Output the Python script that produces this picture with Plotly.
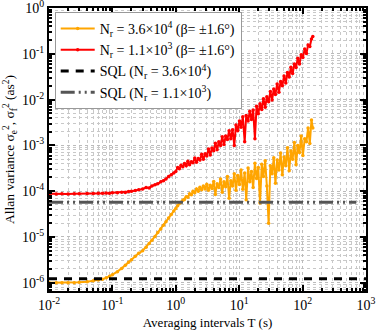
import plotly.graph_objects as go

# averaging intervals T (s)
t_smooth = [0.01, 0.013, 0.016, 0.02, 0.025, 0.03, 0.04, 0.05, 0.06, 0.07, 0.08, 0.09,
            0.1, 0.12, 0.14, 0.16, 0.18, 0.2, 0.23, 0.26, 0.3, 0.34, 0.38, 0.42, 0.47,
            0.52, 0.58, 0.64, 0.7, 0.77, 0.85, 0.93, 1.0]
t_noisy = [1.07, 1.14, 1.21, 1.29, 1.37, 1.46, 1.55, 1.65, 1.76, 1.87, 1.99, 2.12, 2.26,
           2.4, 2.56, 2.72, 2.9, 3.08, 3.28, 3.49, 3.72, 3.96, 4.21, 4.48, 4.77, 5.08,
           5.4, 5.75, 6.12, 6.52, 6.93, 7.38, 7.86, 8.36, 8.9, 9.47, 10.1, 10.7, 11.4,
           12.2, 12.9, 13.8, 14.7, 15.6, 16.6, 17.7, 18.8, 20.0, 21.3, 22.7, 24.1, 25.7,
           27.3, 29.1, 31.0, 33.0, 35.1, 37.3, 39.7, 42.3, 45.0, 47.9, 51, 54.3, 57.7,
           61.4, 65.4, 69.6, 74.1, 78.8, 83.9, 89.3, 95, 101, 108, 115, 122, 130, 138, 145]

# Nr = 3.6e4
orange_smooth = [1.0e-6, 1.0e-6, 1.0e-6, 1.0e-6, 1.0e-6, 1.02e-6, 1.05e-6, 1.1e-6, 1.15e-6,
                 1.2e-6, 1.28e-6, 1.38e-6, 1.5e-6, 1.75e-6, 2.05e-6, 2.4e-6, 2.8e-6, 3.2e-6,
                 3.8e-6, 4.4e-6, 5.0e-6, 6.0e-6, 7.2e-6, 8.5e-6, 1.03e-5, 1.25e-5, 1.5e-5,
                 1.8e-5, 2.15e-5, 2.6e-5, 3.1e-5, 3.7e-5, 4.2e-5]
orange_noisy = [4.8e-5, 5.4e-5, 5.7e-5, 6.3e-5, 6.6e-5, 7.6e-5, 7.4e-5, 8.8e-5, 8.4e-5,
                1.0e-4, 9.3e-5, 1.12e-4, 1.0e-4, 1.22e-4, 1.07e-4, 1.3e-4, 1.12e-4, 1.42e-4,
                1.05e-4, 1.35e-4, 1.15e-4, 1.62e-4, 8.5e-5, 1.45e-4, 1.2e-4, 1.85e-4, 9.5e-5,
                1.6e-4, 1.25e-4, 2.1e-4, 7.0e-5, 1.7e-4, 1.3e-4, 2.4e-4, 1.05e-4, 2.2e-4,
                1.4e-4, 2.9e-4, 1.1e-4, 2.5e-4, 6.5e-5, 3.2e-4, 1.6e-4, 2.7e-4, 1.2e-4,
                4.1e-4, 1.9e-4, 3.3e-4, 5.5e-5, 3.9e-4, 2.1e-4, 4.6e-4, 1.3e-4, 2.0e-5,
                3.6e-4, 2.4e-4, 5.4e-4, 1.5e-4, 4.8e-4, 2.9e-4, 6.8e-4, 2.3e-4, 5.6e-4,
                3.6e-4, 8.9e-4, 2.8e-4, 7.5e-4, 5.0e-4, 1.15e-3, 3.8e-4, 1.0e-3, 7.0e-4,
                1.6e-3, 6.0e-4, 1.4e-3, 1.2e-3, 2.4e-3, 1.1e-3, 3.6e-3, 2.4e-3]

# Nr = 1.1e3
red_smooth = [8.8e-5, 8.7e-5, 8.8e-5, 8.7e-5, 8.8e-5, 8.8e-5, 8.9e-5, 8.9e-5, 9.0e-5,
              9.0e-5, 9.1e-5, 9.0e-5, 9.2e-5, 9.3e-5, 9.5e-5, 9.4e-5, 9.8e-5, 1.0e-4,
              1.03e-4, 1.08e-4, 1.12e-4, 1.2e-4, 1.18e-4, 1.3e-4, 1.38e-4, 1.45e-4,
              1.6e-4, 1.7e-4, 1.85e-4, 2.1e-4, 2.3e-4, 2.5e-4, 2.7e-4]
red_noisy = [3.3e-4, 3.1e-4, 3.7e-4, 3.4e-4, 4.0e-4, 3.6e-4, 4.5e-4, 3.8e-4, 4.4e-4,
             4.2e-4, 5.3e-4, 4.3e-4, 5.2e-4, 4.8e-4, 6.4e-4, 5.0e-4, 6.6e-4, 5.9e-4,
             8.3e-4, 6.2e-4, 8.8e-4, 7.6e-4, 1.12e-3, 8.0e-4, 1.2e-3, 1.0e-3, 1.55e-3,
             1.05e-3, 1.6e-3, 1.35e-3, 2.1e-3, 1.4e-3, 2.2e-3, 1.0e-3, 2.8e-3, 2.1e-3,
             3.4e-3, 2.5e-3, 4.2e-3, 1.2e-3, 4.5e-3, 3.4e-3, 5.6e-3, 3.7e-3, 5.9e-3,
             1.4e-3, 7.2e-3, 4.9e-3, 8.1e-3, 6.1e-3, 1.05e-2, 6.8e-3, 1.15e-2, 9.0e-3,
             1.5e-2, 9.8e-3, 1.7e-2, 1.3e-2, 2.2e-2, 1.45e-2, 2.5e-2, 2.0e-2, 3.3e-2,
             2.3e-2, 3.9e-2, 3.1e-2, 5.1e-2, 3.7e-2, 6.0e-2, 5.0e-2, 8.0e-2, 6.0e-2,
             9.5e-2, 8.3e-2, 1.28e-1, 1.02e-1, 1.55e-1, 1.45e-1, 2.1e-1, 2.4e-1]

# standard quantum limits
sql_x = [0.01, 1000]
sql_high = [1.23e-6, 1.23e-6]
sql_low_x = [0.01, 700]
sql_low = [5.7e-5, 5.7e-5]

# tick labels
x_ticks = [0.01, 0.1, 1, 10, 100, 1000]
x_labels = ["10<sup>-2</sup>", "10<sup>-1</sup>", "10<sup>0</sup>", "10<sup>1</sup>",
            "10<sup>2</sup>", "10<sup>3</sup>"]
y_ticks = [1e-6, 1e-5, 1e-4, 1e-3, 1e-2, 1e-1, 1]
y_labels = ["10<sup>-6</sup>", "10<sup>-5</sup>", "10<sup>-4</sup>", "10<sup>-3</sup>",
            "10<sup>-2</sup>", "10<sup>-1</sup>", "10<sup>0</sup>"]

t_all = t_smooth + t_noisy
font = "Liberation Serif"

fig = go.Figure()
fig.add_trace(go.Scatter(x=t_all, y=orange_smooth + orange_noisy, mode="lines+markers",
                         line=dict(color="#FFA500", width=2), marker=dict(size=3.5),
                         name="N<sub>r</sub> = 3.6×10<sup>4</sup> (β= ±1.6°)"))
fig.add_trace(go.Scatter(x=t_all, y=red_smooth + red_noisy, mode="lines+markers",
                         line=dict(color="#FF0000", width=2), marker=dict(size=3.5),
                         name="N<sub>r</sub> = 1.1×10<sup>3</sup> (β= ±1.6°)"))
fig.add_trace(go.Scatter(x=sql_x, y=sql_high, mode="lines",
                         line=dict(color="black", width=3, dash="8px,7px"),
                         name="SQL (N<sub>r</sub> = 3.6×10<sup>4</sup>)"))
fig.add_trace(go.Scatter(x=sql_low_x, y=sql_low, mode="lines",
                         line=dict(color="#555555", width=3, dash="14px,4px,2px,4px,2px,4px"),
                         name="SQL (N<sub>r</sub> = 1.1×10<sup>3</sup>)"))


def minor_vals(lo, hi):
    return [m * 10 ** e for e in range(lo, hi) for m in range(2, 10)]


axis_common = dict(type="log", showline=True, automargin=False,
                   linecolor="black", linewidth=2, mirror="allticks", ticks="inside",
                   ticklen=6, tickwidth=1.5, tickcolor="black",
                   showgrid=True, gridcolor="#bbbbbb", griddash="dot", gridwidth=1,
                   tickfont=dict(family=font, size=14, color="black"),
                   ticklabeloverflow="allow", zeroline=False)

fig.update_xaxes(range=[-2, 3], tickmode="array", tickvals=x_ticks, ticktext=x_labels,
                 minor=dict(ticks="inside", ticklen=3, tickcolor="black",
                            tickvals=minor_vals(-2, 3),
                            showgrid=True, gridcolor="#c8c8c8", griddash="dot"),
                 title=dict(text="Averaging intervals T (s)", standoff=6,
                            font=dict(family=font, size=13, color="black")),
                 **axis_common)
fig.update_yaxes(range=[-6.18, 0.001], tickmode="array", tickvals=y_ticks, ticktext=y_labels,
                 minor=dict(ticks="inside", ticklen=3, tickcolor="black",
                            tickvals=minor_vals(-7, 0),
                            showgrid=True, gridcolor="#c8c8c8", griddash="dot"),
                 title=dict(text="Allan variance σ<sub>e</sub><sup>2</sup>, σ<sub>f</sub><sup>2</sup> (as<sup>2</sup>)",
                            standoff=4, font=dict(family=font, size=13.5, color="black")),
                 **axis_common)

fig.update_layout(width=381, height=336, margin=dict(l=49, r=15, t=8, b=45),
                  plot_bgcolor="white", paper_bgcolor="white", showlegend=True,
                  font=dict(family=font, color="black"),
                  legend=dict(x=0.018, y=0.986, xanchor="left", yanchor="top",
                              bgcolor="white", bordercolor="#999999", borderwidth=1,
                              font=dict(family=font, size=14), tracegroupgap=0,
                              itemwidth=34))

# drop the default page margin so the figure sits at the window's corner
fig.write_html("out.html", config={"displayModeBar": False},
               post_script="document.body.style.margin = '0px';")
